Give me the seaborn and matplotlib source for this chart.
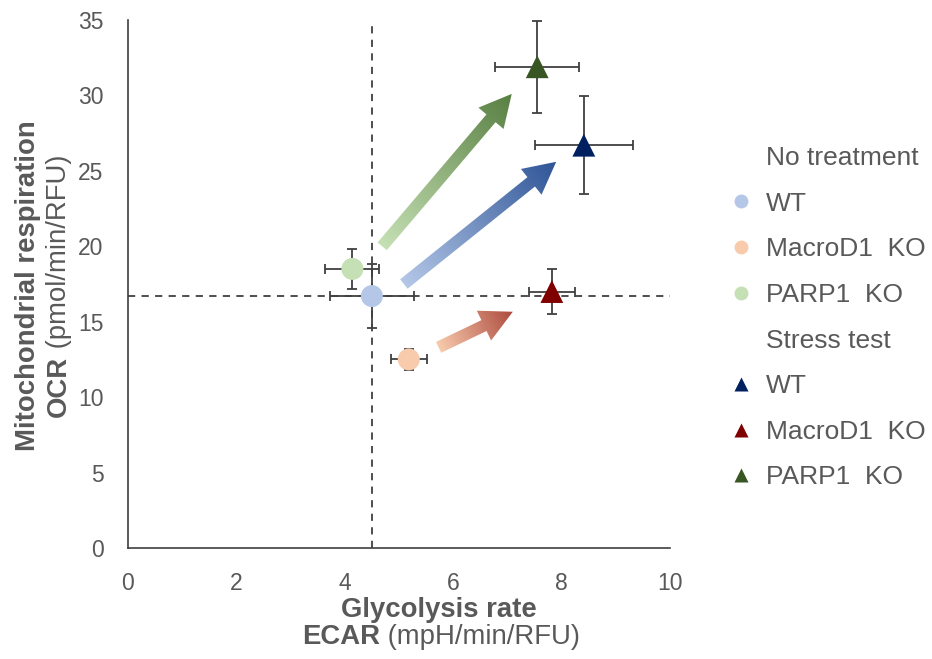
import numpy as np
import pandas as pd
import matplotlib
matplotlib.use("Agg")
import matplotlib.pyplot as plt
import seaborn as sns
from matplotlib.lines import Line2D
from matplotlib.patches import Polygon
from matplotlib.colors import LinearSegmentedColormap

# ---------------- data ----------------
genotypes = ["WT", "MacroD1  KO", "PARP1  KO"]
base_x = [4.50, 5.18, 4.14]
base_xerr = [0.78, 0.33, 0.50]
base_y = [16.7, 12.5, 18.5]
base_yerr = [2.1, 0.7, 1.3]
stress_x = [8.41, 7.82, 7.55]
stress_xerr = [0.91, 0.42, 0.77]
stress_y = [26.7, 17.0, 31.9]
stress_yerr = [3.25, 1.5, 3.05]
ref_x = 4.5
ref_y = 16.7
# arrows (start, tip) in data units
arrow_start_x = [5.09, 5.73, 4.69]
arrow_start_y = [17.5, 13.3, 20.0]
arrow_tip_x = [7.90, 7.10, 7.08]
arrow_tip_y = [25.6, 15.66, 30.1]
x_ticks = [0, 2, 4, 6, 8, 10]
y_ticks = [0, 5, 10, 15, 20, 25, 30, 35]

base_colors = ["#b4c7e7", "#f8cbad", "#c5e0b4"]
stress_colors = ["#002060", "#800000", "#375623"]
arrow_light = ["#b4c7e7", "#f8cbad", "#c5e0b4"]
arrow_dark = ["#2f5597", "#ad4a3e", "#587f42"]

TXT = "#595959"
sns.set_theme(style="white")
plt.rcParams["font.family"] = ["Liberation Sans", "DejaVu Sans"]

W, H = 932, 659
fig = plt.figure(figsize=(W / 100, H / 100), dpi=100)
ax = fig.add_axes([128 / W, 111 / H, 542 / W, 528 / H])
ax.set_xlim(0, 10)
ax.set_ylim(0, 35)

# reference dashed lines
ax.axvline(ref_x, color="#404040", lw=1.3, ls=(0, (4, 3.5)), zorder=1)
ax.axhline(ref_y, color="#404040", lw=1.3, ls=(0, (4, 3.5)), zorder=1)

# gradient arrows
def px_arrow(p0, p1, sw=12, hw=33, hl=32):
    p0 = np.asarray(p0, float); p1 = np.asarray(p1, float)
    d = p1 - p0
    L = np.hypot(*d)
    d = d / L
    n = np.array([-d[1], d[0]])
    b = p1 - d * hl
    pts = [p0 + n * sw / 2, b + n * sw / 2, b + n * hw / 2, p1,
           b - n * hw / 2, b - n * sw / 2, p0 - n * sw / 2]
    return np.array(pts), d, L

for i in range(3):
    p0 = ax.transData.transform((arrow_start_x[i], arrow_start_y[i]))
    p1 = ax.transData.transform((arrow_tip_x[i], arrow_tip_y[i]))
    pts, d, L = px_arrow(p0, p1)
    data_pts = ax.transData.inverted().transform(pts)
    poly = Polygon(data_pts, closed=True, transform=ax.transData,
                   facecolor="none", edgecolor="none")
    ax.add_patch(poly)
    xmin, ymin = pts.min(axis=0) - 2
    xmax, ymax = pts.max(axis=0) + 2
    X, Y = np.meshgrid(np.linspace(xmin, xmax, 300), np.linspace(ymin, ymax, 300))
    t = ((X - p0[0]) * d[0] + (Y - p0[1]) * d[1]) / L
    t = np.clip(t, 0, 1)
    cmap = LinearSegmentedColormap.from_list("g%d" % i, [arrow_light[i], arrow_dark[i]])
    (dx0, dy0) = ax.transData.inverted().transform((xmin, ymin))
    (dx1, dy1) = ax.transData.inverted().transform((xmax, ymax))
    im = ax.imshow(t, cmap=cmap, vmin=0, vmax=1, origin="lower",
                   extent=(dx0, dx1, dy0, dy1), aspect="auto", zorder=2,
                   interpolation="bilinear")
    im.set_clip_path(poly)

# error bars
ax.errorbar(base_x, base_y, xerr=base_xerr, yerr=base_yerr, fmt="none",
            ecolor="#404040", elinewidth=1.3, capsize=3.3, capthick=1.3, zorder=3)
ax.errorbar(stress_x, stress_y, xerr=stress_xerr, yerr=stress_yerr, fmt="none",
            ecolor="#404040", elinewidth=1.3, capsize=3.3, capthick=1.3, zorder=3)

# markers
df_base = pd.DataFrame({"x": base_x, "y": base_y, "g": genotypes})
df_stress = pd.DataFrame({"x": stress_x, "y": stress_y, "g": genotypes})
sns.scatterplot(data=df_base, x="x", y="y", hue="g", palette=base_colors,
                marker="o", s=250, linewidth=0, legend=False, ax=ax, zorder=4)
sns.scatterplot(data=df_stress, x="x", y="y", hue="g", palette=stress_colors,
                marker="^", s=270, linewidth=0, legend=False, ax=ax, zorder=4)

ax.set_xlim(0, 10)
ax.set_ylim(0, 35)
ax.set_xticks(x_ticks)
ax.set_yticks(y_ticks)
ax.set_xlabel("")
ax.set_ylabel("")
ax.tick_params(axis="both", length=0, labelsize=16.5, labelcolor=TXT)
ax.tick_params(axis="y", pad=17.5)
ax.tick_params(axis="x", pad=17)
for s in ["top", "right"]:
    ax.spines[s].set_visible(False)
for s in ["left", "bottom"]:
    ax.spines[s].set_color("#3f3f3f")
    ax.spines[s].set_linewidth(1.2)
ax.set_facecolor("white")

# legend
blank = Line2D([], [], ls="none", marker="None")
handles = [blank]
labels = ["No treatment"]
for c, g in zip(base_colors, genotypes):
    handles.append(Line2D([], [], ls="none", marker="o", ms=10, mfc=c, mec="none"))
    labels.append(g)
handles.append(blank)
labels.append("Stress test")
for c, g in zip(stress_colors, genotypes):
    handles.append(Line2D([], [], ls="none", marker="^", ms=10.5, mfc=c, mec="none"))
    labels.append(g)
leg = fig.legend(handles, labels, loc="upper left",
                 bbox_to_anchor=(730 / W, 1 - 146 / H), frameon=False,
                 fontsize=19, handlelength=0.8, handletextpad=0.55,
                 labelspacing=0.82, borderpad=0, borderaxespad=0)
for t in leg.get_texts():
    t.set_color(TXT)

# axis titles
FS = 19.8
r = fig.canvas.get_renderer()

def fx(x):
    return x / W

def fy(y):
    return 1 - y / H

fig.text(fx(439), fy(610), "Glycolysis rate", ha="center", va="center",
         fontsize=FS, fontweight="bold", color=TXT)
a = fig.text(0, 0, "ECAR", fontsize=FS, fontweight="bold", color=TXT)
b = fig.text(0, 0, " (mpH/min/RFU)", fontsize=FS, color=TXT)
wa = a.get_window_extent(r).width
wb = b.get_window_extent(r).width
left = 441 - (wa + wb) / 2
a.set_position((fx(left), fy(637))); a.set_va("center"); a.set_ha("left")
b.set_position((fx(left + wa), fy(637))); b.set_va("center"); b.set_ha("left")

fig.text(fx(28), fy(286), "Mitochondrial respiration", ha="center", va="center",
         rotation=90, fontsize=FS, fontweight="bold", color=TXT)
c = fig.text(0, 0, "OCR", fontsize=FS, fontweight="bold", color=TXT)
d = fig.text(0, 0, " (pmol/min/RFU)", fontsize=FS, color=TXT)
wc = c.get_window_extent(r).width
wd = d.get_window_extent(r).width
bottom = 286 + (wc + wd) / 2  # in image y (down)
c.set_rotation(90); d.set_rotation(90)
c.set_ha("center"); d.set_ha("center"); c.set_va("bottom"); d.set_va("bottom")
c.set_position((fx(59), fy(bottom)))
d.set_position((fx(59), fy(bottom - wc)))

fig.savefig("out.png", dpi=100, facecolor="white")
